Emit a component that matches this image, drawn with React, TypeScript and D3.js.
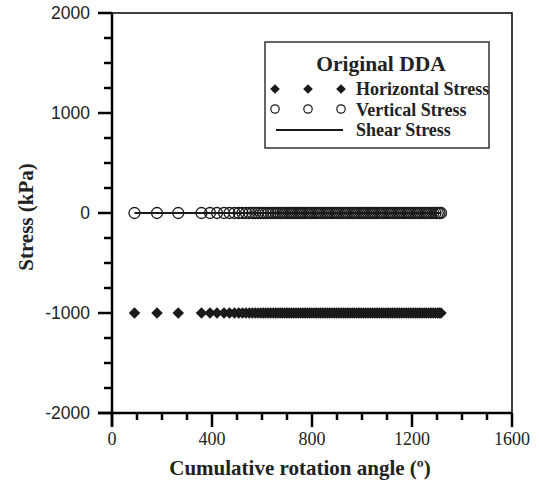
import { useEffect, useRef } from 'react';
import * as d3 from 'd3';

// cumulative rotation angle of each recorded step (deg)
const angles = [
  90, 180, 265, 358, 392, 420, 448, 470, 490, 507, 522, 536, 549, 561, 573, 584,
  595, 605, 615, 625, 635, 645, 655, 664, 673, 682, 691, 700, 709, 718, 727, 736,
  745, 754, 763, 772, 781, 790, 799, 808, 817, 826, 835, 844, 853, 862, 871, 880,
  889, 898, 907, 916, 925, 934, 943, 952, 961, 970, 979, 988, 997, 1006, 1015,
  1024, 1033, 1042, 1051, 1060, 1069, 1078, 1087, 1096, 1105, 1114, 1123, 1132,
  1141, 1150, 1159, 1168, 1177, 1186, 1195, 1204, 1213, 1222, 1231, 1240, 1249,
  1258, 1267, 1276, 1285, 1294, 1303, 1310, 1316,
];
const horizontalStress = -1000;
const verticalStress = 0;
const shearStress = 0;

const xTicks = [0, 400, 800, 1200, 1600];
const yTicks = [-2000, -1000, 0, 1000, 2000];
const legendTitle = 'Original DDA';
const legendLabels = ['Horizontal Stress', 'Vertical Stress', 'Shear Stress'];

const SERIF = '"Liberation Serif", "Times New Roman", serif';
const SANS = '"Liberation Sans", Arial, sans-serif';

export default function App() {
  const svgRef = useRef<SVGSVGElement>(null);
  const width = 539;
  const height = 481;

  useEffect(() => {
    const svg = d3.select(svgRef.current);
    svg.selectAll('*').remove();

    const left = 112, right = 512, top = 13, bottom = 413;
    const x = d3.scaleLinear().domain([0, 1600]).range([left, right]);
    const y = d3.scaleLinear().domain([-2000, 2000]).range([bottom, top]);

    // frame (top / right)
    svg.append('path')
      .attr('d', `M${left},${top}H${right}V${bottom}`)
      .attr('fill', 'none')
      .attr('stroke', '#000')
      .attr('stroke-width', 1.5);

    // y axis
    const yAxis = svg.append('g');
    yAxis.append('line')
      .attr('x1', left).attr('x2', left)
      .attr('y1', top).attr('y2', bottom + 14)
      .attr('stroke', '#000').attr('stroke-width', 2.5);
    d3.range(-2000, 2001, 250).forEach(v => {
      const major = v % 1000 === 0;
      yAxis.append('line')
        .attr('x1', left - (major ? 14 : 8)).attr('x2', left)
        .attr('y1', y(v)).attr('y2', y(v))
        .attr('stroke', '#000').attr('stroke-width', 2.5);
    });
    yAxis.selectAll('text.ytick')
      .data(yTicks)
      .enter()
      .append('text')
      .attr('class', 'ytick')
      .attr('x', left - 22)
      .attr('y', d => y(d))
      .attr('text-anchor', 'end')
      .attr('dominant-baseline', 'central')
      .attr('font-family', SANS)
      .attr('font-size', 17.5)
      .attr('fill', '#222')
      .text(d => d);

    // x axis
    const xAxis = svg.append('g');
    xAxis.append('line')
      .attr('x1', left - 14).attr('x2', right)
      .attr('y1', bottom).attr('y2', bottom)
      .attr('stroke', '#000').attr('stroke-width', 2.5);
    d3.range(0, 1601, 100).forEach(v => {
      const major = v % 400 === 0;
      xAxis.append('line')
        .attr('x1', x(v)).attr('x2', x(v))
        .attr('y1', bottom).attr('y2', bottom + (major ? 14 : 7))
        .attr('stroke', '#000').attr('stroke-width', 2.5);
    });
    xAxis.selectAll('text.xtick')
      .data(xTicks)
      .enter()
      .append('text')
      .attr('class', 'xtick')
      .attr('x', d => x(d))
      .attr('y', bottom + 32)
      .attr('text-anchor', 'middle')
      .attr('font-family', SERIF)
      .attr('font-size', 18)
      .attr('fill', '#222')
      .text(d => d);

    // axis titles
    svg.append('text')
      .attr('x', 300)
      .attr('y', 475)
      .attr('text-anchor', 'middle')
      .attr('font-family', SERIF)
      .attr('font-weight', 'bold')
      .attr('font-size', 21)
      .attr('fill', '#222')
      .text('Cumulative rotation angle (º)');

    svg.append('text')
      .attr('transform', `translate(33,${217}) rotate(-90)`)
      .attr('text-anchor', 'middle')
      .attr('font-family', SERIF)
      .attr('font-weight', 'bold')
      .attr('font-size', 21)
      .attr('fill', '#222')
      .text('Stress (kPa)');

    // series
    const diamond = d3.symbol().type(d3.symbolDiamond2).size(85);
    svg.append('g')
      .selectAll('path')
      .data(angles)
      .enter()
      .append('path')
      .attr('d', diamond)
      .attr('transform', d => `translate(${x(d)},${y(horizontalStress)})`)
      .attr('fill', '#1a1a1a');

    const line = d3.line<number>().x(d => x(d)).y(() => y(shearStress));
    svg.append('path')
      .attr('d', line(angles))
      .attr('fill', 'none')
      .attr('stroke', '#1a1a1a')
      .attr('stroke-width', 2);

    svg.append('g')
      .selectAll('circle')
      .data(angles)
      .enter()
      .append('circle')
      .attr('cx', d => x(d))
      .attr('cy', y(verticalStress))
      .attr('r', 5.5)
      .attr('fill', 'none')
      .attr('stroke', '#1a1a1a')
      .attr('stroke-width', 1.3);

    // legend
    const legend = svg.append('g');
    legend.append('rect')
      .attr('x', 265).attr('y', 42)
      .attr('width', 224).attr('height', 106)
      .attr('fill', '#fff')
      .attr('stroke', '#333')
      .attr('stroke-width', 1.5);
    legend.append('text')
      .attr('x', 381)
      .attr('y', 71)
      .attr('text-anchor', 'middle')
      .attr('font-family', SERIF)
      .attr('font-weight', 'bold')
      .attr('font-size', 21.5)
      .attr('fill', '#222')
      .text(legendTitle);

    const symX = [275, 308, 341];
    const legDiamond = d3.symbol().type(d3.symbolDiamond2).size(60);
    symX.forEach(sx => {
      legend.append('path')
        .attr('d', legDiamond)
        .attr('transform', `translate(${sx},89)`)
        .attr('fill', '#1a1a1a');
      legend.append('circle')
        .attr('cx', sx).attr('cy', 109).attr('r', 4.2)
        .attr('fill', 'none')
        .attr('stroke', '#1a1a1a')
        .attr('stroke-width', 1.2);
    });
    legend.append('line')
      .attr('x1', 276).attr('x2', 343)
      .attr('y1', 130).attr('y2', 130)
      .attr('stroke', '#1a1a1a')
      .attr('stroke-width', 2);

    legend.selectAll('text.entry')
      .data(legendLabels)
      .enter()
      .append('text')
      .attr('class', 'entry')
      .attr('x', 356)
      .attr('y', (d, i) => 95 + i * 20.5)
      .attr('font-family', SERIF)
      .attr('font-weight', 'bold')
      .attr('font-size', 18)
      .attr('fill', '#222')
      .text(d => d);
  }, []);

  return (
    <svg
      ref={svgRef}
      width={width}
      height={height}
      style={{ position: 'absolute', left: 0, top: 0, background: '#fff' }}
    />
  );
}
